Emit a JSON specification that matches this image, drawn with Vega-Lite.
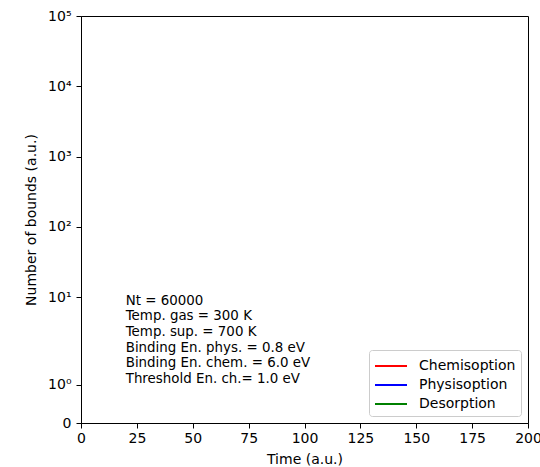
{
  "$schema": "https://vega.github.io/schema/vega-lite/v6.json",
  "width": 447,
  "height": 407,
  "autosize": "none",
  "padding": {"left": 81, "top": 16, "right": 12, "bottom": 44},
  "background": "white",
  "config": {
    "font": "DejaVu Sans",
    "view": {"stroke": "black", "strokeWidth": 1},
    "axis": {
      "domainColor": "black", "tickColor": "black", "labelColor": "black", "titleColor": "black",
      "labelFontSize": 14, "titleFontSize": 14, "titleFontWeight": "normal", "grid": false,
      "tickSize": 5, "labelPadding": 3, "domainWidth": 1, "tickWidth": 1, "labelFlush": false
    },
    "legend": {
      "orient": "bottom-right", "offset": 7, "padding": 5, "strokeColor": "#cccccc", "fillColor": "white",
      "cornerRadius": 3, "symbolType": "M-1,0H2.2", "symbolSize": 400, "symbolStrokeWidth": 2,
      "labelFontSize": 14, "labelColor": "black", "labelOffset": 23, "rowPadding": 1
    }
  },
  "layer": [
    {
      "data": {"values": [
        {"series": "Chemisoption", "time": null, "count": null},
        {"series": "Physisoption", "time": null, "count": null},
        {"series": "Desorption", "time": null, "count": null}
      ]},
      "mark": {"type": "line", "strokeWidth": 2},
      "encoding": {
        "x": {"field": "time", "type": "quantitative",
          "scale": {"domain": [0, 200], "nice": false},
          "axis": {"values": [0, 25, 50, 75, 100, 125, 150, 175, 200], "title": "Time (a.u.)", "titlePadding": 7}},
        "y": {"field": "count", "type": "quantitative",
          "scale": {"type": "symlog", "constant": 0.1, "domain": [0, 1, 10, 100000], "range": [407, 368.5, 281, 0]},
          "axis": {"values": [0, 1, 10, 100, 1000, 10000, 100000], "title": "Number of bounds (a.u.)", "titlePadding": 9, "labelPadding": 5,
            "labelExpr": "datum.value == 0 ? '0' : datum.value == 1 ? '10⁰' : datum.value == 10 ? '10¹' : datum.value == 100 ? '10²' : datum.value == 1000 ? '10³' : datum.value == 10000 ? '10⁴' : '10⁵'"}},
        "color": {"field": "series", "type": "nominal",
          "scale": {"domain": ["Chemisoption", "Physisoption", "Desorption"], "range": ["#ff0000", "#0000ff", "#008000"]},
          "legend": {"title": null}}
      }
    },
    {
      "data": {"values": [
        {"time": 20, "count": 1, "label": ["Nt = 60000", "Temp. gas = 300 K", "Temp. sup. = 700 K", "Binding En. phys. = 0.8 eV", "Binding En. chem. = 6.0 eV", "Threshold En. ch.= 1.0 eV"]}
      ]},
      "mark": {"type": "text", "align": "left", "baseline": "alphabetic", "fontSize": 13.4, "lineHeight": 15.7, "dy": -80, "color": "black"},
      "encoding": {
        "x": {"field": "time", "type": "quantitative"},
        "y": {"field": "count", "type": "quantitative"},
        "text": {"field": "label"}
      }
    }
  ]
}
